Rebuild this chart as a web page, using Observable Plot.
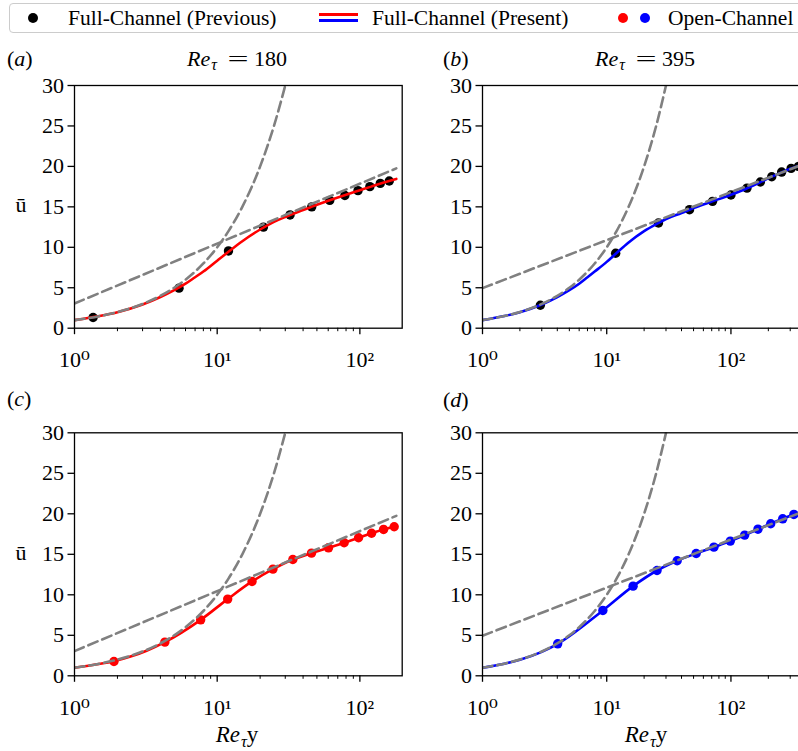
<!DOCTYPE html>
<html><head><meta charset="utf-8">
<script src="https://cdn.jsdelivr.net/npm/d3@7"></script>
<script src="https://cdn.jsdelivr.net/npm/@observablehq/plot@0.6"></script>
<style>
body{margin:0;background:#fff;}
#root{position:relative;width:798px;height:751px;overflow:hidden;font-family:"Liberation Serif","DejaVu Serif",serif;color:#000;background:#fff;}
.t{position:absolute;white-space:nowrap;line-height:1;}
.sub{font-size:0.72em;position:relative;top:0.3em;font-style:italic;margin-left:1px;}
.eq{display:inline-block;width:20px;margin:0 6px 0 11px;text-align:center;transform:scaleX(1.7);}
.panel{position:absolute;overflow:visible;}
.panel svg{max-width:none !important;}
</style></head>
<body><div id="root"></div>
<script>
// ---- tick definitions ----
const yTicks = [0, 5, 10, 15, 20, 25, 30];
const xTicksMajor = [1, 10, 100];
const xTickLabels = ["10\u2070", "10\u00b9", "10\u00b2"];
const xTicksMinor = [2,3,4,5,6,7,8,9,20,30,40,50,60,70,80,90,200,300,400];

// ---- reference laws ----
const viscX = [1, 1.5, 2, 3, 4, 5, 6, 8, 10, 12, 15, 20, 25, 30];
const viscU = [1, 1.5, 2, 3, 4, 5, 6, 8, 10, 12, 15, 20, 25, 30];
const log180X = [1, 180];
const log180U = [3.05, 19.75];
const log395X = [1, 434];
const log395U = [4.95, 20.6];

// ---- (a) Re=180 full channel ----
const prevAX = [1.35, 5.4, 12.0, 21.1, 32.4, 46, 61.5, 78.5, 97, 117.5, 139, 160.7];
const prevAU = [1.32, 4.95, 9.55, 12.5, 14.0, 15.0, 15.8, 16.4, 17.0, 17.5, 17.9, 18.2];
const presAX = [1, 1.5, 2, 3, 4, 5, 6, 7, 8, 10, 12, 15, 20, 25, 30, 40, 50, 60, 80, 100, 120, 140, 160, 180];
const presAU = [1.0, 1.5, 1.98, 2.93, 3.85, 4.7, 5.5, 6.3, 7.0, 8.35, 9.45, 10.75, 12.2, 13.15, 13.75, 14.6, 15.25, 15.75, 16.5, 17.05, 17.5, 17.9, 18.2, 18.45];

// ---- (b) Re=395 full channel ----
const prevBX = [2.92, 11.8, 26.1, 46.4, 71.1, 100, 134.6, 172.5, 213, 256, 305, 350];
const prevBU = [2.84, 9.26, 13.0, 14.65, 15.68, 16.46, 17.32, 18.07, 18.72, 19.3, 19.75, 20.0];
const presBX = [1, 1.5, 2, 3, 4, 5, 6, 7, 8, 10, 12, 15, 20, 26, 30, 40, 50, 70, 100, 135, 170, 210, 260, 300, 350, 395];
const presBU = [1.0, 1.5, 1.98, 2.93, 3.85, 4.7, 5.5, 6.3, 7.0, 8.2, 9.3, 10.6, 12.0, 13.0, 13.5, 14.25, 14.85, 15.65, 16.5, 17.3, 18.0, 18.7, 19.3, 19.7, 20.05, 20.35];

// ---- (c) Re=180 open channel ----
const openCX = [1.89, 4.3, 7.66, 11.85, 17.55, 24.6, 33.9, 45.8, 60.3, 77.6, 97.9, 120.8, 146.6, 174];
const openCU = [1.77, 4.16, 6.91, 9.47, 11.65, 13.17, 14.36, 15.14, 15.8, 16.42, 17.04, 17.6, 18.07, 18.4];
const openCLineX = [1, 1.4, 1.89, 2.5, 3.2, 4.3, 7.66, 11.85, 17.55, 24.6, 33.9, 45.8, 60.3, 77.6, 97.9, 120.8, 146.6, 174];
const openCLineU = [1.0, 1.4, 1.8, 2.4, 3.1, 4.16, 6.91, 9.47, 11.65, 13.17, 14.36, 15.14, 15.8, 16.42, 17.04, 17.6, 18.07, 18.4];

// ---- (d) Re=395 open channel ----
const openDX = [4.03, 9.31, 16.3, 25.4, 36.9, 52.5, 72.9, 98.8, 129, 165, 209, 261, 321];
const openDU = [3.95, 8.07, 11.07, 13.0, 14.2, 15.1, 15.88, 16.63, 17.37, 18.1, 18.77, 19.38, 19.92];
const openDLineX = [1, 1.5, 2, 3, 4.03, 9.31, 16.3, 25.4, 36.9, 52.5, 72.9, 98.8, 129, 165, 209, 261, 321, 395];
const openDLineU = [1.0, 1.5, 1.98, 2.95, 3.95, 8.07, 11.07, 13.0, 14.2, 15.1, 15.88, 16.63, 17.37, 18.1, 18.77, 19.38, 19.92, 20.35];

const zip = (xs, us) => xs.map((x, i) => ({x, u: us[i]}));
const GRAY = "#808080", RED = "#ff0000", BLUE = "#0000ff";
const FONT = '"Liberation Serif", "DejaVu Serif", serif';
const root = document.getElementById("root");

function panel(cfg) {
  const xLab = new Map(xTicksMajor.map((d, i) => [d, xTickLabels[i]]));
  const minor = xTicksMinor.filter(d => d <= cfg.xmax);
  const chart = Plot.plot({
    width: cfg.w, height: cfg.h,
    marginLeft: cfg.mL, marginRight: cfg.mR, marginTop: cfg.mT, marginBottom: cfg.mB,
    x: {type: "log", domain: [1, cfg.xmax], axis: null},
    y: {domain: [0, 30], axis: null},
    style: {fontFamily: FONT, fontSize: "22px", color: "black", background: "transparent", overflow: "visible", maxWidth: "none"},
    marks: [
      Plot.axisY(yTicks, {tickSize: 6.5, tickPadding: 4, fontSize: 22, label: null, strokeWidth: 1.3, tickFormat: d => String(d)}),
      Plot.axisX(xTicksMajor, {tickSize: 6.5, tickPadding: 17, fontSize: 22, label: null, strokeWidth: 1.3, tickFormat: d => xLab.get(d)}),
      Plot.axisX(minor, {tickSize: 3.5, label: null, strokeWidth: 1, tickFormat: () => ""}),
      Plot.dot(zip(cfg.dotX, cfg.dotU), {x: "x", y: "u", r: 4.7, fill: cfg.dotColor, stroke: "none"}),
      Plot.line(zip(cfg.lineX, cfg.lineU), {x: "x", y: "u", stroke: cfg.lineColor, strokeWidth: 2.6, curve: "monotone-x", clip: true}),
      Plot.line(zip(viscX, viscU), {x: "x", y: "u", stroke: GRAY, strokeWidth: 2.6, strokeDasharray: "10,5", curve: "monotone-x", clip: true}),
      Plot.line(zip(cfg.logX, cfg.logU), {x: "x", y: "u", stroke: GRAY, strokeWidth: 2.6, strokeDasharray: "10,5", clip: true}),
      Plot.frame({stroke: "black", strokeWidth: 1.3})
    ]
  });
  const wrap = document.createElement("div");
  wrap.className = "panel";
  wrap.style.left = cfg.left + "px";
  wrap.style.top = cfg.top + "px";
  wrap.style.width = cfg.w + "px";
  wrap.style.height = cfg.h + "px";
  chart.style.maxWidth = "none";
  chart.style.width = cfg.w + "px";
  wrap.appendChild(chart);
  root.appendChild(wrap);
}

panel({left: 0, top: 40, w: 410, h: 340, mL: 74, mR: 8.3, mT: 45, mB: 52.3, xmax: 198,
  dotX: prevAX, dotU: prevAU, dotColor: "#000", lineX: presAX, lineU: presAU, lineColor: RED, logX: log180X, logU: log180U});
panel({left: 400, top: 40, w: 420, h: 340, mL: 82, mR: 10.3, mT: 45, mB: 52.3, xmax: 434.5,
  dotX: prevBX, dotU: prevBU, dotColor: "#000", lineX: presBX, lineU: presBU, lineColor: BLUE, logX: log395X, logU: log395U});
panel({left: 0, top: 390, w: 410, h: 340, mL: 74, mR: 8.3, mT: 42.3, mB: 54.7, xmax: 198,
  dotX: openCX, dotU: openCU, dotColor: RED, lineX: openCLineX, lineU: openCLineU, lineColor: RED, logX: log180X, logU: log180U});
panel({left: 400, top: 390, w: 420, h: 340, mL: 82, mR: 10.3, mT: 42.3, mB: 54.7, xmax: 434.5,
  dotX: openDX, dotU: openDU, dotColor: BLUE, lineX: openDLineX, lineU: openDLineU, lineColor: BLUE, logX: log395X, logU: log395U});

// ---- text helpers ----
function place(html, x, baseline, size, center) {
  const d = document.createElement("div");
  d.className = "t";
  d.innerHTML = html;
  d.style.fontFamily = FONT;
  d.style.fontSize = size + "px";
  d.style.left = x + "px";
  d.style.top = (baseline - 0.8375 * size) + "px";
  if (center) d.style.transform = "translateX(-50%)";
  root.appendChild(d);
  return d;
}
const titles = ["180", "395"];
place("(<i>a</i>)", 7, 66, 22);
place("(<i>b</i>)", 443, 66, 22);
place("(<i>c</i>)", 7, 406, 22);
place("(<i>d</i>)", 443, 407, 22);
place("<i>Re</i><span class='sub'>\u03c4</span><span class='eq'>=</span>" + titles[0], 237, 66, 22, true);
place("<i>Re</i><span class='sub'>\u03c4</span><span class='eq'>=</span>" + titles[1], 645, 66, 22, true);
place("\u016b", 21, 212, 22, true);
place("\u016b", 21, 560, 22, true);
place("<i>Re</i><span class='sub'>\u03c4</span>y", 237, 742, 23, true);
place("<i>Re</i><span class='sub'>\u03c4</span>y", 646, 742, 23, true);

// ---- legend ----
const box = document.createElement("div");
Object.assign(box.style, {position: "absolute", left: "9px", top: "3px", width: "800px", height: "30px",
  boxSizing: "border-box", border: "1.5px solid #cccccc", borderRadius: "4px", background: "#fff"});
root.appendChild(box);
function dot(cx, cy, r, color) {
  const d = document.createElement("div");
  Object.assign(d.style, {position: "absolute", left: (cx - r) + "px", top: (cy - r) + "px", width: 2 * r + "px", height: 2 * r + "px", borderRadius: "50%", background: color});
  root.appendChild(d);
}
function hline(x1, x2, y, color) {
  const d = document.createElement("div");
  Object.assign(d.style, {position: "absolute", left: x1 + "px", top: (y - 1.3) + "px", width: (x2 - x1) + "px", height: "2.6px", background: color});
  root.appendChild(d);
}
const legendLabels = ["Full-Channel (Previous)", "Full-Channel (Present)", "Open-Channel"];
dot(33, 18, 5, "#000");
place(legendLabels[0], 68, 26, 21.5);
hline(319, 358, 14.5, RED);
hline(319, 358, 20.5, BLUE);
place(legendLabels[1], 372, 26, 21.5);
dot(623, 18, 5, RED);
dot(645, 18, 5, BLUE);
place(legendLabels[2], 668, 26, 21.5);
</script></body></html>
